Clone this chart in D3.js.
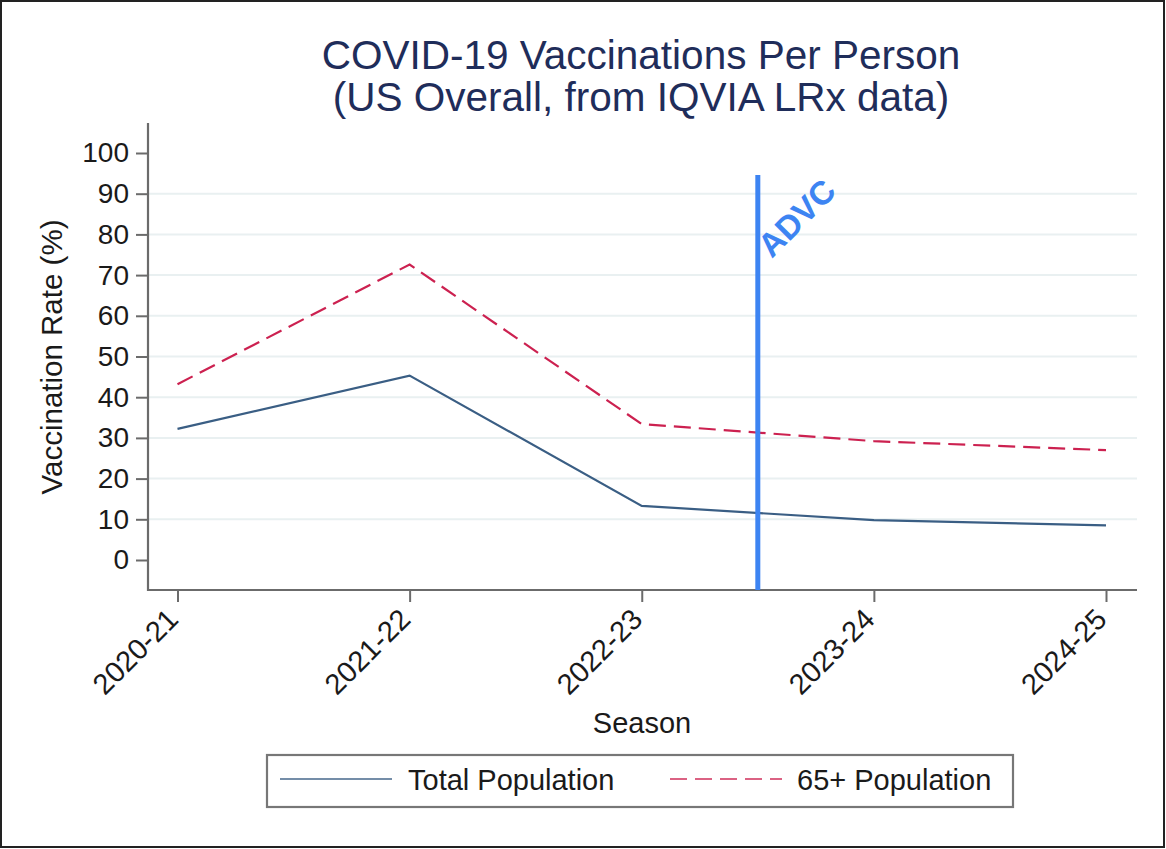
<!DOCTYPE html>
<html>
<head>
<meta charset="utf-8">
<script src="https://cdn.jsdelivr.net/npm/d3@7"></script>
<style>
  html, body { margin: 0; padding: 0; background: #fff; }
  svg { display: block; }
  text { font-family: "Liberation Sans", Arial, sans-serif; }
</style>
</head>
<body>
<svg id="chart" width="1166" height="849"></svg>
<script>
// ---- Data ----
const seasons = ["2020-21", "2021-22", "2022-23", "2023-24", "2024-25"];
const totalPopulation = [32.2, 45.3, 13.3, 9.8, 8.5];
const pop65Plus = [43.2, 72.6, 33.4, 29.2, 27.0];
const yTicks = [0, 10, 20, 30, 40, 50, 60, 70, 80, 90, 100];
const gridValues = [10, 20, 30, 40, 50, 60, 70, 80, 90];
const seriesNames = ["Total Population", "65+ Population"];
const titleLines = ["COVID-19 Vaccinations Per Person", "(US Overall, from IQVIA LRx data)"];
const markerLabel = "ADVC";
const markerBetween = ["2022-23", "2023-24"];

// ---- Layout ----
const svg = d3.select("#chart");
const axisColor = "#6b6b6b";
const totalColor = "#3a5e84";
const olderColor = "#cc2150";
const markerColor = "#3d84f2";

const plotLeft = 148, plotRight = 1137, plotTop = 123, plotBottom = 590;

const x = d3.scalePoint().domain(seasons).range([177.5, 1106]);
const y = d3.scaleLinear().domain([0, 100]).range([560, 153]);

// outer frame
svg.append("rect").attr("x", 1).attr("y", 1).attr("width", 1163).attr("height", 846)
  .attr("fill", "none").attr("stroke", "#222").attr("stroke-width", 2);

// title
svg.selectAll("text.title").data(titleLines).join("text")
  .attr("class", "title")
  .attr("x", 641).attr("y", (d, i) => 69 + i * 42)
  .attr("text-anchor", "middle")
  .attr("font-size", 40.5)
  .attr("fill", "#1f2d5a")
  .text(d => d);

// gridlines
svg.append("g").selectAll("line").data(gridValues).join("line")
  .attr("x1", plotLeft).attr("x2", plotRight)
  .attr("y1", d => y(d)).attr("y2", d => y(d))
  .attr("stroke", "#e9f0f1").attr("stroke-width", 2);

// y axis
const yAxis = svg.append("g").attr("transform", `translate(${plotLeft},0)`)
  .call(d3.axisLeft(y).tickValues(yTicks).tickSize(12).tickPadding(7).tickFormat(d3.format("d")));
yAxis.select(".domain").remove();
yAxis.selectAll(".tick line").attr("stroke", axisColor).attr("stroke-width", 2);
yAxis.selectAll(".tick text").attr("font-size", 28).attr("fill", "#1a1a1a")
  .attr("font-family", "Liberation Sans, Arial, sans-serif");
svg.append("line").attr("x1", plotLeft).attr("x2", plotLeft).attr("y1", plotTop).attr("y2", plotBottom + 1)
  .attr("stroke", axisColor).attr("stroke-width", 2.2);

// x axis
const xAxis = svg.append("g").attr("transform", `translate(0,${plotBottom})`)
  .call(d3.axisBottom(x).tickSize(12).tickPadding(0));
xAxis.select(".domain").remove();
xAxis.selectAll(".tick line").attr("stroke", axisColor).attr("stroke-width", 2);
xAxis.selectAll(".tick text")
  .attr("font-size", 29).attr("fill", "#1a1a1a")
  .attr("font-family", "Liberation Sans, Arial, sans-serif")
  .attr("text-anchor", "end")
  .attr("y", 0)
  .attr("dy", 0)
  .attr("transform", "translate(2,31) rotate(-45)");
svg.append("line").attr("x1", plotLeft - 1).attr("x2", plotRight).attr("y1", plotBottom).attr("y2", plotBottom)
  .attr("stroke", axisColor).attr("stroke-width", 2.2);

// axis titles
svg.append("text").attr("transform", "translate(62,357) rotate(-90)")
  .attr("text-anchor", "middle").attr("font-size", 29.5).attr("fill", "#1a1a1a")
  .text("Vaccination Rate (%)");
svg.append("text").attr("x", 642).attr("y", 733)
  .attr("text-anchor", "middle").attr("font-size", 29).attr("fill", "#1a1a1a")
  .text("Season");

// lines
const line = d3.line().x((d, i) => x(seasons[i])).y(d => y(d));
svg.append("path").datum(pop65Plus).attr("d", line)
  .attr("fill", "none").attr("stroke", olderColor).attr("stroke-width", 2.2)
  .attr("stroke-dasharray", "17,8");
svg.append("path").datum(totalPopulation).attr("d", line)
  .attr("fill", "none").attr("stroke", totalColor).attr("stroke-width", 2.2);

// ADVC marker
const mx = (x(markerBetween[0]) + x(markerBetween[1])) / 2;
svg.append("line").attr("x1", mx).attr("x2", mx).attr("y1", 175).attr("y2", plotBottom)
  .attr("stroke", markerColor).attr("stroke-width", 5);
svg.append("text").attr("transform", `translate(${mx + 14},259) rotate(-45)`)
  .attr("font-family", "Open Sans, Noto Sans, sans-serif").attr("font-weight", "bold")
  .attr("font-size", 33).attr("fill", markerColor)
  .text(markerLabel);

// legend
const lg = svg.append("g");
lg.append("rect").attr("x", 267).attr("y", 755).attr("width", 746).attr("height", 52)
  .attr("fill", "#fff").attr("stroke", "#777").attr("stroke-width", 2.2);
const legendItems = [
  { name: seriesNames[0], color: totalColor, dash: null, x1: 280, x2: 392, tx: 408 },
  { name: seriesNames[1], color: olderColor, dash: "17,8", x1: 670, x2: 782, tx: 797 }
];
legendItems.forEach(it => {
  lg.append("line").attr("x1", it.x1).attr("x2", it.x2).attr("y1", 779).attr("y2", 779)
    .attr("stroke", it.color).attr("stroke-width", 2.2).attr("opacity", 0.7)
    .attr("stroke-dasharray", it.dash);
  lg.append("text").attr("x", it.tx).attr("y", 790).attr("font-size", 29).attr("fill", "#1a1a1a")
    .text(it.name);
});
</script>
</body>
</html>
